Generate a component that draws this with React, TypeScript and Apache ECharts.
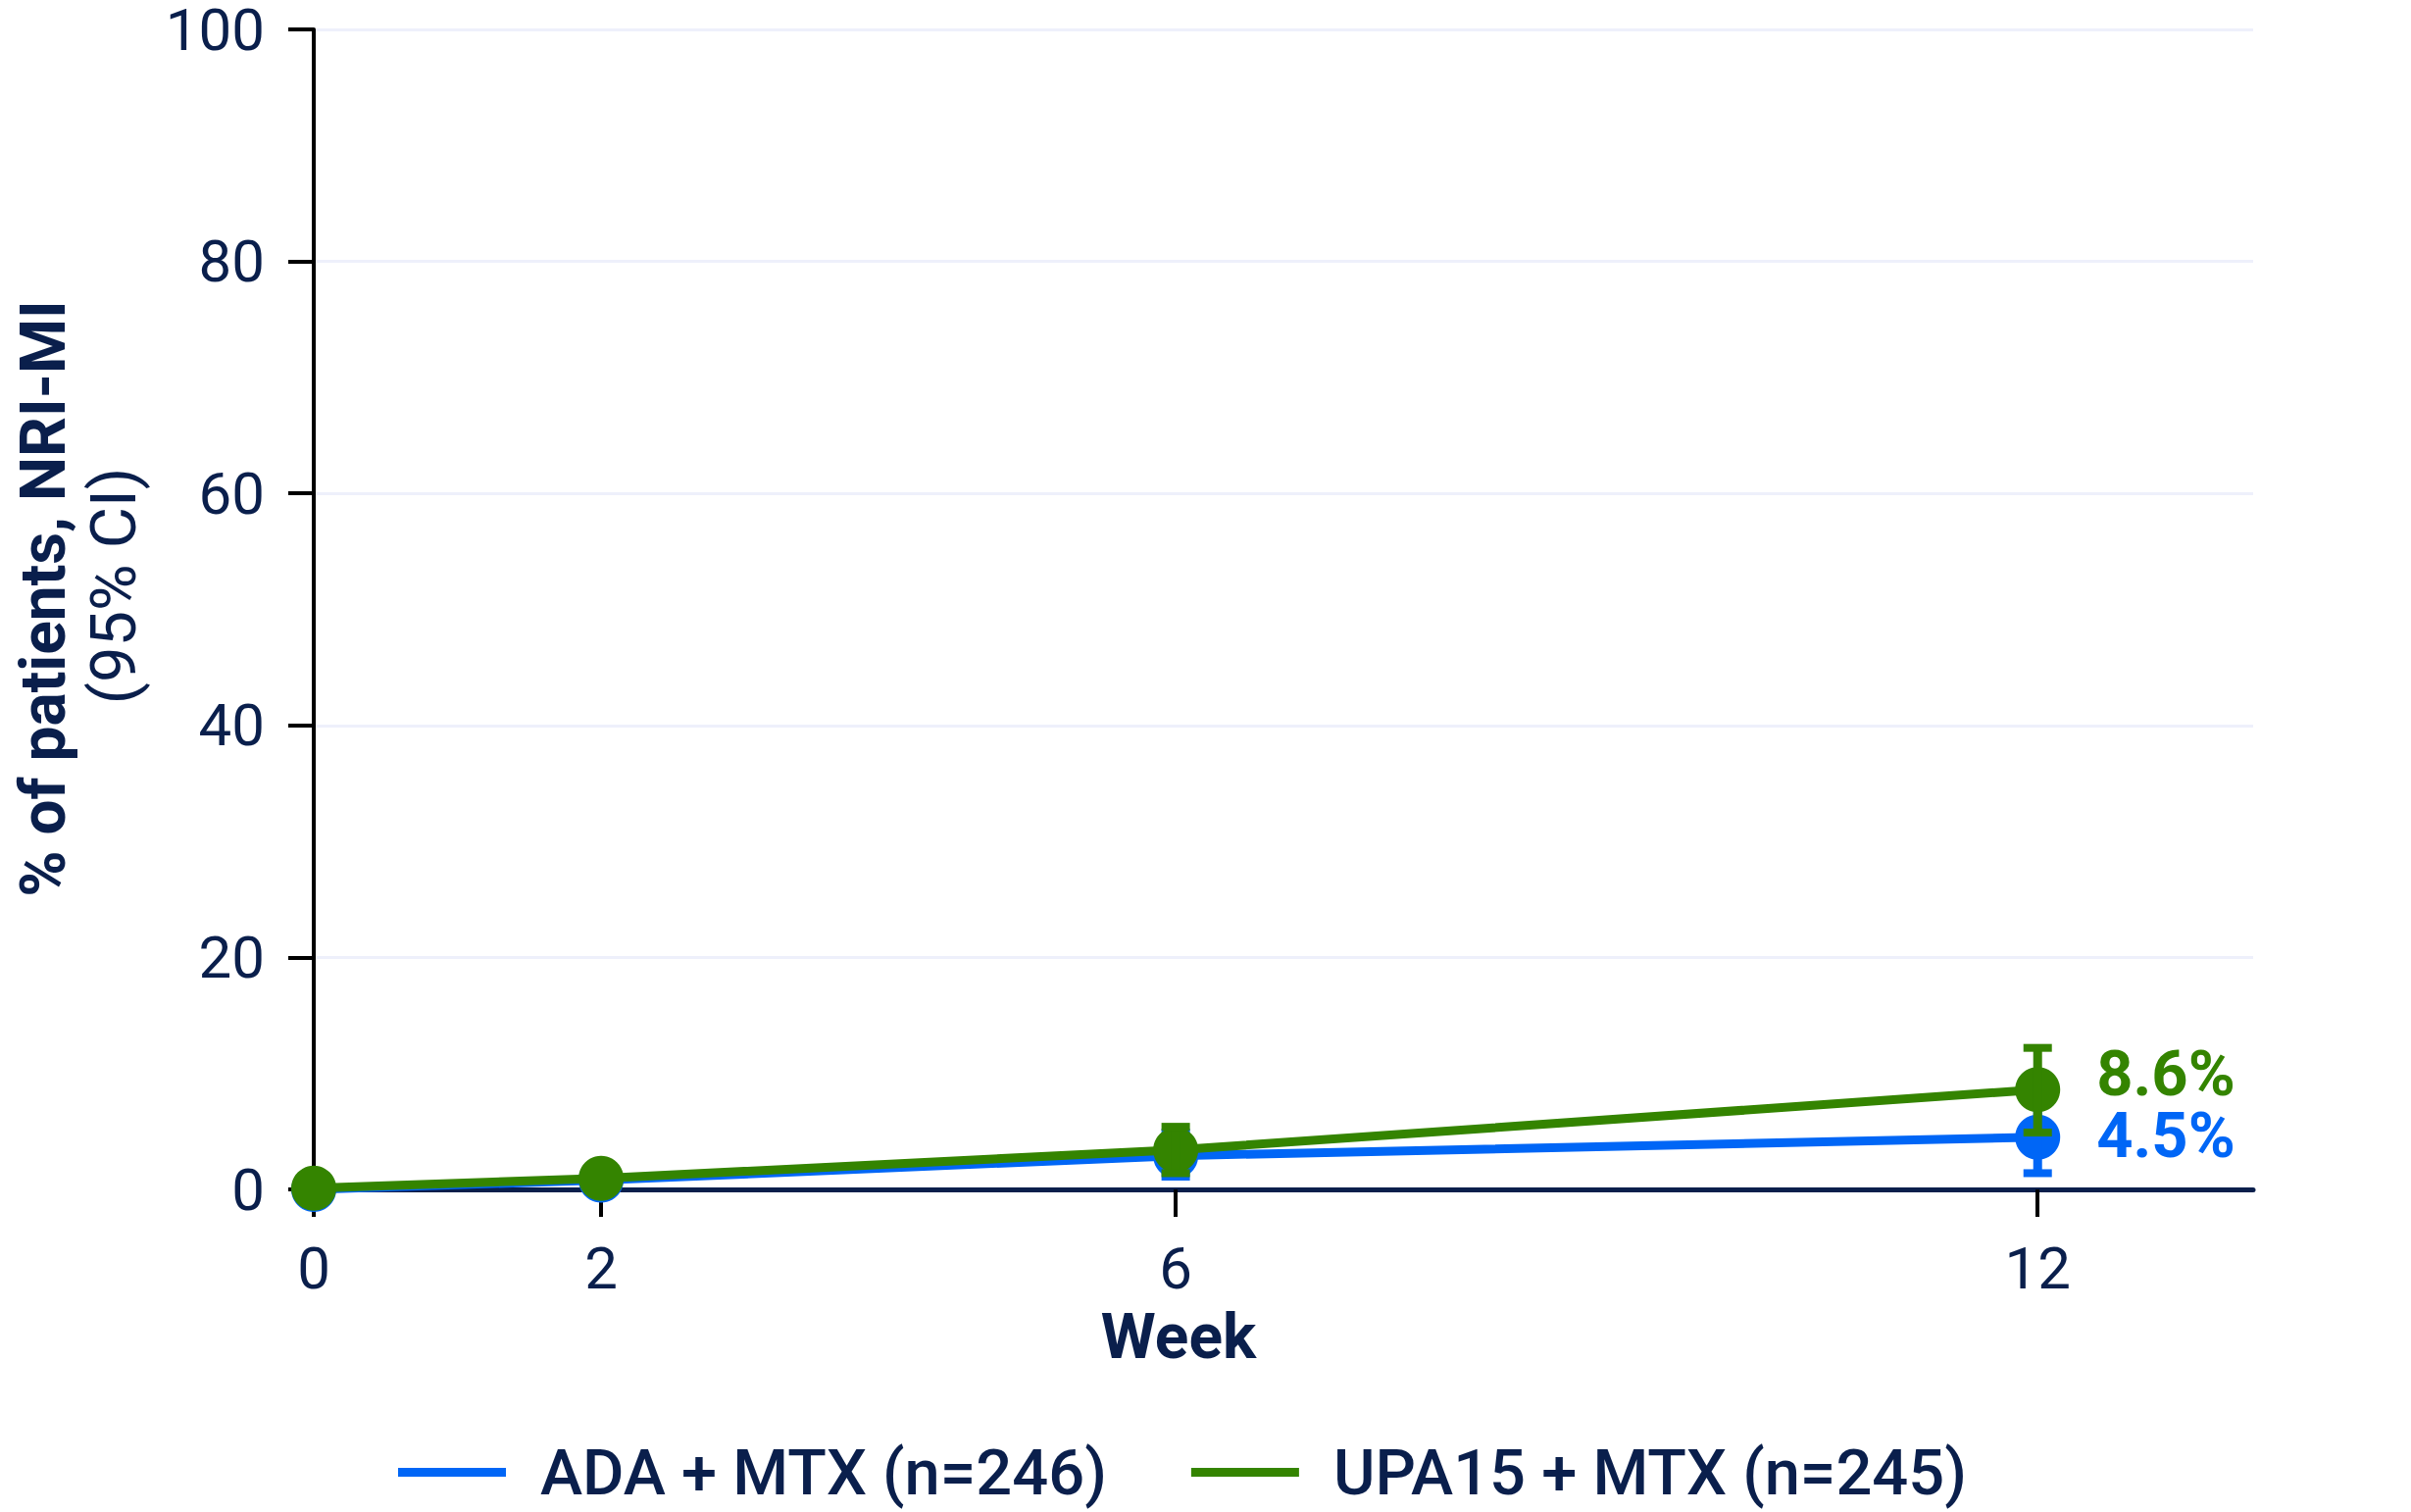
import React, { useEffect, useRef } from "react";
import * as echarts from "echarts";

const weeks = [0, 2, 6, 12];
const tickWeeks = [0, 2, 6, 12];
const adaName = "ADA + MTX (n=246)";
const upaName = "UPA15 + MTX (n=245)";
const adaValues = [0, 0.8, 2.9, 4.5];
const upaValues = [0.1, 0.95, 3.4, 8.6];
// 95% CI [week, low, high]
const adaCI = [
  [6, 1.1, 4.9],
  [12, 1.4, 7.6],
];
const upaCI = [
  [6, 1.4, 5.4],
  [12, 4.9, 12.2],
];
const adaEndLabel = "4.5%";
const upaEndLabel = "8.6%";

const BLUE = "#0066f6";
const GREEN = "#348400";
const NAVY = "#0a1f4c";
const FONT = "Roboto";

function errRender(color: string) {
  return (params: any, api: any) => {
    const x = api.value(0);
    const lo = api.coord([x, api.value(1)]);
    const hi = api.coord([x, api.value(2)]);
    const hw = 14.5;
    return {
      type: "group",
      children: [
        { type: "line", shape: { x1: hi[0], y1: hi[1], x2: lo[0], y2: lo[1] }, style: { stroke: color, lineWidth: 9 } },
        { type: "line", shape: { x1: hi[0] - hw, y1: hi[1], x2: hi[0] + hw, y2: hi[1] }, style: { stroke: color, lineWidth: 8 } },
        { type: "line", shape: { x1: lo[0] - hw, y1: lo[1], x2: lo[0] + hw, y2: lo[1] }, style: { stroke: color, lineWidth: 8 } },
      ],
    };
  };
}

export default function App() {
  const ref = useRef<HTMLDivElement>(null);
  useEffect(() => {
    const chart = echarts.init(ref.current!, null, { renderer: "svg" });
    const last = weeks.length - 1;
    chart.setOption({
      animation: false,
      backgroundColor: "#ffffff",
      textStyle: { fontFamily: FONT },
      grid: { left: 320, right: 161, top: 30, bottom: 329 },
      legend: {
        left: 406,
        top: 1469,
        padding: 0,
        icon: "rect",
        itemWidth: 110,
        itemHeight: 9,
        itemGap: 86,
        data: [adaName, upaName],
        textStyle: { fontFamily: FONT, fontSize: 65, fontWeight: 500, color: NAVY, lineHeight: 64, padding: [0, 0, 0, 30] },
      },
      xAxis: {
        type: "value",
        min: 0,
        max: 13.5,
        name: "Week",
        nameLocation: "middle",
        nameGap: 118,
        nameTextStyle: { fontFamily: FONT, fontSize: 64, fontWeight: "bold", color: NAVY, padding: [0, 214, 0, 0] },
        axisLine: { show: true, lineStyle: { color: NAVY, width: 5 } },
        axisTick: { show: true, customValues: tickWeeks, length: 28, lineStyle: { color: "#000000", width: 4 } },
        axisLabel: { customValues: tickWeeks, margin: 50, fontFamily: FONT, fontSize: 60, color: NAVY },
        splitLine: { show: false },
      },
      yAxis: {
        type: "value",
        min: 0,
        max: 100,
        interval: 20,
        name: "{b|% of patients, NRI-MI}\n{n|(95% CI)}",
        nameLocation: "middle",
        nameGap: 168,
        nameRotate: 90,
        nameTextStyle: {
          rich: {
            b: { fontFamily: FONT, fontSize: 64, fontWeight: "bold", color: NAVY, lineHeight: 72, align: "center" },
            n: { fontFamily: FONT, fontSize: 65, color: NAVY, lineHeight: 72, align: "center", padding: [0, 0, 0, 26] },
          },
          padding: [0, 0, 0, 22],
        },
        axisLine: { show: true, lineStyle: { color: "#000000", width: 4 } },
        axisTick: { show: true, length: 26, lineStyle: { color: "#000000", width: 4 } },
        axisLabel: { margin: 50, fontFamily: FONT, fontSize: 60, lineHeight: 50, color: NAVY },
        splitLine: { show: true, lineStyle: { color: "#eef0fb", width: 3 } },
      },
      series: [
        {
          name: adaName,
          type: "line",
          data: weeks.map((w, i) => [w, adaValues[i]]),
          z: 2,
          color: BLUE,
          lineStyle: { color: BLUE, width: 9 },
          itemStyle: { color: BLUE },
          symbol: "circle",
          symbolSize: 46,
          showAllSymbol: true,
          label: {
            show: true,
            position: "right",
            distance: 37,
            offset: [0, -2],
            fontFamily: FONT,
            fontSize: 65,
            lineHeight: 46,
            fontWeight: "bold",
            color: BLUE,
            formatter: (p: any) => (p.dataIndex === last ? adaEndLabel : ""),
          },
        },
        {
          name: adaName + " CI",
          type: "custom",
          data: adaCI,
          z: 3,
          renderItem: errRender(BLUE),
          encode: { x: 0, y: [1, 2] },
        },
        {
          name: upaName,
          type: "line",
          data: weeks.map((w, i) => [w, upaValues[i]]),
          z: 4,
          color: GREEN,
          lineStyle: { color: GREEN, width: 9 },
          itemStyle: { color: GREEN },
          symbol: "circle",
          symbolSize: 46,
          showAllSymbol: true,
          label: {
            show: true,
            position: "right",
            distance: 37,
            offset: [0, -16],
            fontFamily: FONT,
            fontSize: 65,
            lineHeight: 46,
            fontWeight: "bold",
            color: GREEN,
            formatter: (p: any) => (p.dataIndex === last ? upaEndLabel : ""),
          },
        },
        {
          name: upaName + " CI",
          type: "custom",
          data: upaCI,
          z: 5,
          renderItem: errRender(GREEN),
          encode: { x: 0, y: [1, 2] },
        },
      ],
    });
    return () => chart.dispose();
  }, []);
  return (
    <div
      ref={ref}
      style={{ position: "absolute", left: 0, top: 0, width: 2459, height: 1542 }}
    />
  );
}
